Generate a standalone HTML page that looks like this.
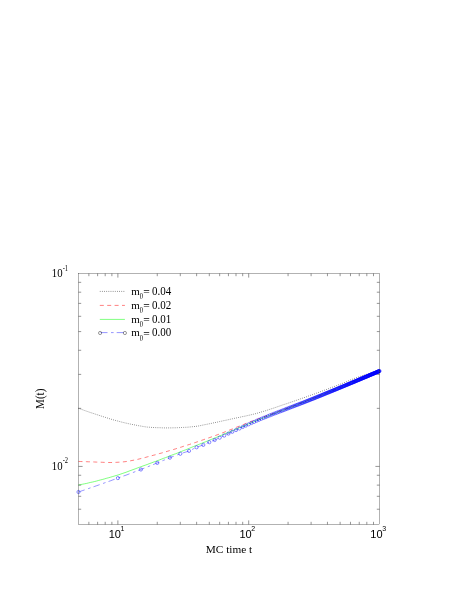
<!DOCTYPE html><html><head><meta charset="utf-8"><style>html,body{margin:0;padding:0;background:#fff}svg{display:block;will-change:transform}text{fill:#000}</style></head><body>
<svg width="458" height="592" viewBox="0 0 458 592">
<rect width="458" height="592" fill="#fff"/>
<g fill="none" stroke-linecap="butt">
<path d="M78.5,408.3 L80.5,409.0 L82.5,409.7 L84.6,410.5 L86.6,411.2 L88.6,411.9 L90.6,412.6 L92.6,413.2 L94.7,413.9 L96.7,414.6 L98.7,415.2 L100.7,415.9 L102.7,416.5 L104.8,417.2 L106.8,417.8 L108.8,418.5 L110.8,419.1 L112.8,419.7 L114.9,420.3 L116.9,420.8 L118.9,421.3 L120.9,421.9 L122.9,422.4 L125.0,422.9 L127.0,423.3 L129.0,423.8 L131.0,424.2 L133.0,424.6 L135.1,425.0 L137.1,425.4 L139.1,425.8 L141.1,426.1 L143.1,426.5 L145.2,426.8 L147.2,427.1 L149.2,427.2 L151.2,427.4 L153.2,427.5 L155.3,427.6 L157.3,427.7 L159.3,427.7 L161.3,427.8 L163.3,427.9 L165.4,427.9 L167.4,427.9 L169.4,427.9 L171.4,427.9 L173.4,427.8 L175.5,427.8 L177.5,427.7 L179.5,427.6 L181.5,427.5 L183.5,427.4 L185.6,427.3 L187.6,427.2 L189.6,427.0 L191.6,426.8 L193.6,426.6 L195.7,426.4 L197.7,426.1 L199.7,425.8 L201.7,425.3 L203.7,424.9 L205.8,424.5 L207.8,424.1 L209.8,423.7 L211.8,423.3 L213.8,422.8 L215.9,422.4 L217.9,422.0 L219.9,421.5 L221.9,421.1 L223.9,420.6 L226.0,420.2 L228.0,419.8 L230.0,419.3 L232.0,418.9 L234.1,418.4 L236.1,418.0 L238.1,417.6 L240.1,417.2 L242.1,416.7 L244.2,416.3 L246.2,415.9 L248.2,415.4 L250.2,415.0 L252.2,414.5 L254.3,414.0 L256.3,413.5 L258.3,412.9 L260.3,412.3 L262.3,411.7 L264.4,411.1 L266.4,410.5 L268.4,409.8 L270.4,409.1 L272.4,408.5 L274.5,407.8 L276.5,407.1 L278.5,406.4 L280.5,405.7 L282.5,405.0 L284.6,404.3 L286.6,403.7 L288.6,403.0 L290.6,402.3 L292.6,401.6 L294.7,400.9 L296.7,400.2 L298.7,399.5 L300.7,398.8 L302.7,398.1 L304.8,397.4 L306.8,396.7 L308.8,395.9 L310.8,395.2 L312.8,394.5 L314.9,393.8 L316.9,393.0 L318.9,392.3 L320.9,391.5 L322.9,390.8 L325.0,390.0 L327.0,389.3 L329.0,388.5 L331.0,387.7 L333.0,387.0 L335.1,386.2 L337.1,385.4 L339.1,384.6 L341.1,383.9 L343.1,383.1 L345.2,382.2 L347.2,381.4 L349.2,380.5 L351.2,379.7 L353.2,378.9 L355.3,378.1 L357.3,377.4 L359.3,376.7 L361.3,376.0 L363.3,375.3 L365.4,374.7 L367.4,374.0 L369.4,373.4 L371.4,372.8 L373.4,372.2 L375.5,371.7 L377.5,371.1 L379.5,370.6" stroke="#000" stroke-width="0.5" stroke-dasharray="0.85 1.3"/>
<path d="M78.5,461.4 L80.5,461.5 L82.5,461.6 L84.6,461.6 L86.6,461.7 L88.6,461.8 L90.6,461.8 L92.6,461.9 L94.7,462.0 L96.7,462.1 L98.7,462.1 L100.7,462.2 L102.7,462.3 L104.8,462.4 L106.8,462.5 L108.8,462.5 L110.8,462.5 L112.8,462.5 L114.9,462.4 L116.9,462.3 L118.9,462.2 L120.9,462.1 L122.9,461.9 L125.0,461.7 L127.0,461.4 L129.0,461.1 L131.0,460.7 L133.0,460.3 L135.1,459.9 L137.1,459.5 L139.1,459.0 L141.1,458.5 L143.1,458.0 L145.2,457.5 L147.2,456.9 L149.2,456.4 L151.2,455.9 L153.2,455.3 L155.3,454.8 L157.3,454.2 L159.3,453.6 L161.3,453.1 L163.3,452.5 L165.4,451.9 L167.4,451.3 L169.4,450.7 L171.4,450.1 L173.4,449.5 L175.5,448.9 L177.5,448.2 L179.5,447.6 L181.5,447.0 L183.5,446.3 L185.6,445.7 L187.6,445.0 L189.6,444.4 L191.6,443.7 L193.6,443.1 L195.7,442.4 L197.7,441.7 L199.7,441.0 L201.7,440.3 L203.7,439.6 L205.8,438.9 L207.8,438.2 L209.8,437.5 L211.8,436.8 L213.8,436.1 L215.9,435.3 L217.9,434.6 L219.9,433.8 L221.9,433.1 L223.9,432.3 L226.0,431.5 L228.0,430.7 L230.0,429.9 L232.0,429.1 L234.1,428.2 L236.1,427.4 L238.1,426.6 L240.1,425.8 L242.1,425.0 L244.2,424.2 L246.2,423.4 L248.2,422.6 L250.2,421.8 L252.2,421.1 L254.3,420.3 L256.3,419.6 L258.3,418.8 L260.3,418.1 L262.3,417.4 L264.4,416.6 L266.4,415.9 L268.4,415.2 L270.4,414.4 L272.4,413.7 L274.5,413.0 L276.5,412.2 L278.5,411.5 L280.5,410.7 L282.5,410.0 L284.6,409.2 L286.6,408.4 L288.6,407.7 L290.6,406.9 L292.6,406.2 L294.7,405.4 L296.7,404.6 L298.7,403.9 L300.7,403.1 L302.7,402.3 L304.8,401.6 L306.8,400.8 L308.8,400.0 L310.8,399.2 L312.8,398.4 L314.9,397.7 L316.9,396.9 L318.9,396.1 L320.9,395.3 L322.9,394.5 L325.0,393.7 L327.0,392.8 L329.0,392.0 L331.0,391.2 L333.0,390.4 L335.1,389.6 L337.1,388.8 L339.1,388.0 L341.1,387.1 L343.1,386.3 L345.2,385.5 L347.2,384.6 L349.2,383.8 L351.2,383.0 L353.2,382.1 L355.3,381.3 L357.3,380.5 L359.3,379.6 L361.3,378.8 L363.3,377.9 L365.4,377.1 L367.4,376.2 L369.4,375.3 L371.4,374.5 L373.4,373.6 L375.5,372.7 L377.5,371.9 L379.5,371.0" stroke="#ff0000" stroke-width="0.5" stroke-dasharray="4 3.4"/>
<path d="M78.5,485.0 L80.5,484.6 L82.5,484.2 L84.6,483.8 L86.6,483.4 L88.6,482.9 L90.6,482.4 L92.6,482.0 L94.7,481.5 L96.7,481.0 L98.7,480.4 L100.7,479.9 L102.7,479.4 L104.8,478.8 L106.8,478.2 L108.8,477.7 L110.8,477.1 L112.8,476.5 L114.9,475.9 L116.9,475.3 L118.9,474.7 L120.9,474.0 L122.9,473.3 L125.0,472.6 L127.0,471.9 L129.0,471.1 L131.0,470.4 L133.0,469.6 L135.1,468.9 L137.1,468.1 L139.1,467.4 L141.1,466.7 L143.1,465.9 L145.2,465.2 L147.2,464.5 L149.2,463.7 L151.2,463.0 L153.2,462.2 L155.3,461.5 L157.3,460.7 L159.3,460.0 L161.3,459.2 L163.3,458.4 L165.4,457.7 L167.4,456.9 L169.4,456.1 L171.4,455.3 L173.4,454.5 L175.5,453.8 L177.5,453.0 L179.5,452.2 L181.5,451.4 L183.5,450.6 L185.6,449.8 L187.6,449.0 L189.6,448.2 L191.6,447.3 L193.6,446.5 L195.7,445.7 L197.7,444.9 L199.7,444.1 L201.7,443.3 L203.7,442.5 L205.8,441.7 L207.8,440.8 L209.8,440.0 L211.8,439.2 L213.8,438.4 L215.9,437.6 L217.9,436.7 L219.9,435.9 L221.9,435.1 L223.9,434.2 L226.0,433.4 L228.0,432.6 L230.0,431.7 L232.0,430.9 L234.1,430.0 L236.1,429.1 L238.1,428.3 L240.1,427.4 L242.1,426.6 L244.2,425.7 L246.2,424.9 L248.2,424.0 L250.2,423.2 L252.2,422.3 L254.3,421.5 L256.3,420.7 L258.3,419.9 L260.3,419.1 L262.3,418.3 L264.4,417.5 L266.4,416.7 L268.4,415.9 L270.4,415.1 L272.4,414.3 L274.5,413.5 L276.5,412.7 L278.5,412.0 L280.5,411.2 L282.5,410.4 L284.6,409.6 L286.6,408.9 L288.6,408.1 L290.6,407.3 L292.6,406.5 L294.7,405.8 L296.7,405.0 L298.7,404.2 L300.7,403.4 L302.7,402.6 L304.8,401.9 L306.8,401.1 L308.8,400.3 L310.8,399.5 L312.8,398.7 L314.9,397.9 L316.9,397.0 L318.9,396.2 L320.9,395.4 L322.9,394.6 L325.0,393.8 L327.0,393.0 L329.0,392.1 L331.0,391.3 L333.0,390.5 L335.1,389.6 L337.1,388.8 L339.1,388.0 L341.1,387.2 L343.1,386.3 L345.2,385.5 L347.2,384.6 L349.2,383.8 L351.2,383.0 L353.2,382.1 L355.3,381.3 L357.3,380.4 L359.3,379.6 L361.3,378.7 L363.3,377.9 L365.4,377.0 L367.4,376.2 L369.4,375.3 L371.4,374.5 L373.4,373.6 L375.5,372.7 L377.5,371.9 L379.5,371.0" stroke="#00ff00" stroke-width="0.5"/>
<path d="M78.5,492.0 L80.5,491.3 L82.5,490.6 L84.6,489.9 L86.6,489.2 L88.6,488.5 L90.6,487.8 L92.6,487.1 L94.7,486.4 L96.7,485.7 L98.7,485.0 L100.7,484.3 L102.7,483.6 L104.8,482.8 L106.8,482.1 L108.8,481.4 L110.8,480.7 L112.8,479.9 L114.9,479.2 L116.9,478.5 L118.9,477.7 L120.9,477.0 L122.9,476.2 L125.0,475.5 L127.0,474.8 L129.0,474.0 L131.0,473.3 L133.0,472.5 L135.1,471.7 L137.1,471.0 L139.1,470.2 L141.1,469.4 L143.1,468.6 L145.2,467.8 L147.2,467.0 L149.2,466.2 L151.2,465.4 L153.2,464.6 L155.3,463.7 L157.3,462.9 L159.3,462.1 L161.3,461.2 L163.3,460.4 L165.4,459.6 L167.4,458.7 L169.4,457.9 L171.4,457.1 L173.4,456.3 L175.5,455.5 L177.5,454.8 L179.5,454.0 L181.5,453.4 L183.5,452.7 L185.6,452.1 L187.6,451.5 L189.6,450.7 L191.6,449.8 L193.6,448.7 L195.7,447.8 L197.7,446.9 L199.7,446.2 L201.7,445.5 L203.7,444.7 L205.8,443.8 L207.8,442.8 L209.8,441.9 L211.8,441.1 L213.8,440.4 L215.9,439.5 L217.9,438.5 L219.9,437.6 L221.9,436.7 L223.9,435.7 L226.0,434.8 L228.0,433.8 L230.0,432.9 L232.0,431.9 L234.1,431.0 L236.1,430.0 L238.1,429.1 L240.1,428.2 L242.1,427.2 L244.2,426.3 L246.2,425.4 L248.2,424.5 L250.2,423.6 L252.2,422.7 L254.3,421.8 L256.3,421.0 L258.3,420.1 L260.3,419.3 L262.3,418.4 L264.4,417.6 L266.4,416.8 L268.4,416.0 L270.4,415.2 L272.4,414.4 L274.5,413.6 L276.5,412.8 L278.5,412.0 L280.5,411.3 L282.5,410.5 L284.6,409.7 L286.6,408.9 L288.6,408.2 L290.6,407.4 L292.6,406.6 L294.7,405.9 L296.7,405.1 L298.7,404.3 L300.7,403.5 L302.7,402.7 L304.8,402.0 L306.8,401.2 L308.8,400.4 L310.8,399.6 L312.8,398.8 L314.9,398.0 L316.9,397.1 L318.9,396.3 L320.9,395.5 L322.9,394.7 L325.0,393.9 L327.0,393.0 L329.0,392.2 L331.0,391.4 L333.0,390.5 L335.1,389.7 L337.1,388.9 L339.1,388.0 L341.1,387.2 L343.1,386.4 L345.2,385.5 L347.2,384.7 L349.2,383.8 L351.2,383.0 L353.2,382.1 L355.3,381.3 L357.3,380.4 L359.3,379.6 L361.3,378.7 L363.3,377.9 L365.4,377.0 L367.4,376.2 L369.4,375.3 L371.4,374.5 L373.4,373.6 L375.5,372.7 L377.5,371.9 L379.5,371.0" stroke="#0000ff" stroke-width="0.42" stroke-dasharray="6.5 3.6 2.6 3.2"/>
<g stroke="#0000ff" stroke-width="0.45"><circle cx="78.5" cy="492.0" r="1.6"/><circle cx="117.9" cy="478.1" r="1.6"/><circle cx="140.9" cy="469.5" r="1.6"/><circle cx="157.3" cy="462.9" r="1.6"/><circle cx="169.9" cy="457.7" r="1.6"/><circle cx="180.3" cy="453.8" r="1.6"/><circle cx="189.0" cy="450.9" r="1.6"/><circle cx="196.6" cy="447.3" r="1.6"/><circle cx="203.3" cy="444.9" r="1.6"/><circle cx="209.3" cy="442.2" r="1.6"/><circle cx="214.7" cy="440.0" r="1.6"/><circle cx="219.7" cy="437.7" r="1.6"/><circle cx="224.2" cy="435.6" r="1.6"/><circle cx="228.4" cy="433.6" r="1.6"/><circle cx="232.3" cy="431.8" r="1.6"/><circle cx="236.0" cy="430.1" r="1.6"/><circle cx="239.5" cy="428.5" r="1.6"/><circle cx="242.7" cy="427.0" r="1.6"/><circle cx="245.8" cy="425.6" r="1.6"/><circle cx="248.7" cy="424.3" r="1.6"/><circle cx="251.5" cy="423.0" r="1.6"/><circle cx="254.1" cy="421.9" r="1.6"/><circle cx="256.6" cy="420.8" r="1.6"/><circle cx="259.0" cy="419.8" r="1.6"/><circle cx="261.4" cy="418.8" r="1.6"/><circle cx="263.6" cy="417.9" r="1.6"/><circle cx="265.7" cy="417.1" r="1.6"/><circle cx="267.8" cy="416.2" r="1.6"/><circle cx="269.8" cy="415.4" r="1.6"/><circle cx="271.7" cy="414.7" r="1.6"/><circle cx="273.6" cy="413.9" r="1.6"/><circle cx="275.4" cy="413.2" r="1.6"/><circle cx="277.1" cy="412.6" r="1.6"/><circle cx="278.8" cy="411.9" r="1.6"/><circle cx="280.5" cy="411.3" r="1.6"/><circle cx="282.1" cy="410.7" r="1.6"/><circle cx="283.6" cy="410.1" r="1.6"/><circle cx="285.2" cy="409.5" r="1.6"/><circle cx="286.6" cy="408.9" r="1.6"/><circle cx="288.1" cy="408.4" r="1.6"/><circle cx="289.5" cy="407.8" r="1.6"/><circle cx="290.8" cy="407.3" r="1.6"/><circle cx="292.2" cy="406.8" r="1.6"/><circle cx="293.5" cy="406.3" r="1.6"/><circle cx="294.8" cy="405.8" r="1.6"/><circle cx="296.0" cy="405.3" r="1.6"/><circle cx="297.2" cy="404.9" r="1.6"/><circle cx="298.4" cy="404.4" r="1.6"/><circle cx="299.6" cy="404.0" r="1.6"/><circle cx="300.7" cy="403.5" r="1.6"/><circle cx="301.9" cy="403.1" r="1.6"/><circle cx="303.0" cy="402.7" r="1.6"/><circle cx="304.1" cy="402.2" r="1.6"/><circle cx="305.1" cy="401.8" r="1.6"/><circle cx="306.2" cy="401.4" r="1.6"/><circle cx="307.2" cy="401.0" r="1.6"/><circle cx="308.2" cy="400.6" r="1.6"/><circle cx="309.2" cy="400.2" r="1.6"/><circle cx="310.1" cy="399.8" r="1.6"/><circle cx="311.1" cy="399.5" r="1.6"/><circle cx="312.0" cy="399.1" r="1.6"/><circle cx="313.0" cy="398.7" r="1.6"/><circle cx="313.9" cy="398.4" r="1.6"/><circle cx="314.8" cy="398.0" r="1.6"/><circle cx="315.6" cy="397.6" r="1.6"/><circle cx="316.5" cy="397.3" r="1.6"/><circle cx="317.4" cy="396.9" r="1.6"/><circle cx="318.2" cy="396.6" r="1.6"/><circle cx="319.0" cy="396.3" r="1.6"/><circle cx="319.9" cy="395.9" r="1.6"/><circle cx="320.7" cy="395.6" r="1.6"/><circle cx="321.5" cy="395.3" r="1.6"/><circle cx="322.2" cy="395.0" r="1.6"/><circle cx="323.0" cy="394.6" r="1.6"/><circle cx="323.8" cy="394.3" r="1.6"/><circle cx="324.5" cy="394.0" r="1.6"/><circle cx="325.3" cy="393.7" r="1.6"/><circle cx="326.0" cy="393.4" r="1.6"/><circle cx="326.7" cy="393.1" r="1.6"/><circle cx="327.4" cy="392.8" r="1.6"/><circle cx="328.2" cy="392.5" r="1.6"/><circle cx="328.8" cy="392.3" r="1.6"/><circle cx="329.5" cy="392.0" r="1.6"/><circle cx="330.2" cy="391.7" r="1.6"/><circle cx="330.9" cy="391.4" r="1.6"/><circle cx="331.6" cy="391.1" r="1.6"/><circle cx="332.2" cy="390.9" r="1.6"/><circle cx="332.9" cy="390.6" r="1.6"/><circle cx="333.5" cy="390.3" r="1.6"/><circle cx="334.1" cy="390.1" r="1.6"/><circle cx="334.8" cy="389.8" r="1.6"/><circle cx="335.4" cy="389.6" r="1.6"/><circle cx="336.0" cy="389.3" r="1.6"/><circle cx="336.6" cy="389.1" r="1.6"/><circle cx="337.2" cy="388.8" r="1.6"/><circle cx="337.8" cy="388.6" r="1.6"/><circle cx="338.4" cy="388.3" r="1.6"/><circle cx="339.0" cy="388.1" r="1.6"/><circle cx="339.6" cy="387.8" r="1.6"/><circle cx="340.1" cy="387.6" r="1.6"/><circle cx="340.7" cy="387.4" r="1.6"/><circle cx="341.2" cy="387.1" r="1.6"/><circle cx="341.8" cy="386.9" r="1.6"/><circle cx="342.4" cy="386.7" r="1.6"/><circle cx="342.9" cy="386.5" r="1.6"/><circle cx="343.4" cy="386.2" r="1.6"/><circle cx="344.0" cy="386.0" r="1.6"/><circle cx="344.5" cy="385.8" r="1.6"/><circle cx="345.0" cy="385.6" r="1.6"/><circle cx="345.5" cy="385.4" r="1.6"/><circle cx="346.1" cy="385.1" r="1.6"/><circle cx="346.6" cy="384.9" r="1.6"/><circle cx="347.1" cy="384.7" r="1.6"/><circle cx="347.6" cy="384.5" r="1.6"/><circle cx="348.1" cy="384.3" r="1.6"/><circle cx="348.6" cy="384.1" r="1.6"/><circle cx="349.0" cy="383.9" r="1.6"/><circle cx="349.5" cy="383.7" r="1.6"/><circle cx="350.0" cy="383.5" r="1.6"/><circle cx="350.5" cy="383.3" r="1.6"/><circle cx="351.0" cy="383.1" r="1.6"/><circle cx="351.4" cy="382.9" r="1.6"/><circle cx="351.9" cy="382.7" r="1.6"/><circle cx="352.3" cy="382.5" r="1.6"/><circle cx="352.8" cy="382.3" r="1.6"/><circle cx="353.3" cy="382.1" r="1.6"/><circle cx="353.7" cy="382.0" r="1.6"/><circle cx="354.1" cy="381.8" r="1.6"/><circle cx="354.6" cy="381.6" r="1.6"/><circle cx="355.0" cy="381.4" r="1.6"/><circle cx="355.5" cy="381.2" r="1.6"/><circle cx="355.9" cy="381.0" r="1.6"/><circle cx="356.3" cy="380.8" r="1.6"/><circle cx="356.7" cy="380.7" r="1.6"/><circle cx="357.2" cy="380.5" r="1.6"/><circle cx="357.6" cy="380.3" r="1.6"/><circle cx="358.0" cy="380.1" r="1.6"/><circle cx="358.4" cy="380.0" r="1.6"/><circle cx="358.8" cy="379.8" r="1.6"/><circle cx="359.2" cy="379.6" r="1.6"/><circle cx="359.6" cy="379.5" r="1.6"/><circle cx="360.0" cy="379.3" r="1.6"/><circle cx="360.4" cy="379.1" r="1.6"/><circle cx="360.8" cy="378.9" r="1.6"/><circle cx="361.2" cy="378.8" r="1.6"/><circle cx="361.6" cy="378.6" r="1.6"/><circle cx="362.0" cy="378.5" r="1.6"/><circle cx="362.4" cy="378.3" r="1.6"/><circle cx="362.8" cy="378.1" r="1.6"/><circle cx="363.2" cy="378.0" r="1.6"/><circle cx="363.5" cy="377.8" r="1.6"/><circle cx="363.9" cy="377.6" r="1.6"/><circle cx="364.3" cy="377.5" r="1.6"/><circle cx="364.7" cy="377.3" r="1.6"/><circle cx="365.0" cy="377.2" r="1.6"/><circle cx="365.4" cy="377.0" r="1.6"/><circle cx="365.7" cy="376.9" r="1.6"/><circle cx="366.1" cy="376.7" r="1.6"/><circle cx="366.5" cy="376.6" r="1.6"/><circle cx="366.8" cy="376.4" r="1.6"/><circle cx="367.2" cy="376.3" r="1.6"/><circle cx="367.5" cy="376.1" r="1.6"/><circle cx="367.9" cy="376.0" r="1.6"/><circle cx="368.2" cy="375.8" r="1.6"/><circle cx="368.6" cy="375.7" r="1.6"/><circle cx="368.9" cy="375.5" r="1.6"/><circle cx="369.3" cy="375.4" r="1.6"/><circle cx="369.6" cy="375.2" r="1.6"/><circle cx="369.9" cy="375.1" r="1.6"/><circle cx="370.3" cy="374.9" r="1.6"/><circle cx="370.6" cy="374.8" r="1.6"/><circle cx="370.9" cy="374.7" r="1.6"/><circle cx="371.3" cy="374.5" r="1.6"/><circle cx="371.6" cy="374.4" r="1.6"/><circle cx="371.9" cy="374.2" r="1.6"/><circle cx="372.2" cy="374.1" r="1.6"/><circle cx="372.6" cy="374.0" r="1.6"/><circle cx="372.9" cy="373.8" r="1.6"/><circle cx="373.2" cy="373.7" r="1.6"/><circle cx="373.5" cy="373.6" r="1.6"/><circle cx="373.8" cy="373.4" r="1.6"/><circle cx="374.1" cy="373.3" r="1.6"/><circle cx="374.5" cy="373.2" r="1.6"/><circle cx="374.8" cy="373.0" r="1.6"/><circle cx="375.1" cy="372.9" r="1.6"/><circle cx="375.4" cy="372.8" r="1.6"/><circle cx="375.7" cy="372.6" r="1.6"/><circle cx="376.0" cy="372.5" r="1.6"/><circle cx="376.3" cy="372.4" r="1.6"/><circle cx="376.6" cy="372.2" r="1.6"/><circle cx="376.9" cy="372.1" r="1.6"/><circle cx="377.2" cy="372.0" r="1.6"/><circle cx="377.5" cy="371.9" r="1.6"/><circle cx="377.8" cy="371.7" r="1.6"/><circle cx="378.1" cy="371.6" r="1.6"/><circle cx="378.4" cy="371.5" r="1.6"/><circle cx="378.6" cy="371.4" r="1.6"/><circle cx="378.9" cy="371.2" r="1.6"/><circle cx="379.2" cy="371.1" r="1.6"/><circle cx="379.5" cy="371.0" r="1.6"/></g>
</g>
<path d="M88.86,524.5 v-2.7 M88.86,273.5 v2.7 M97.62,524.5 v-2.7 M97.62,273.5 v2.7 M105.20,524.5 v-2.7 M105.20,273.5 v2.7 M111.89,524.5 v-2.7 M111.89,273.5 v2.7 M117.88,524.5 v-4.1 M117.88,273.5 v4.1 M157.26,524.5 v-2.7 M157.26,273.5 v2.7 M180.29,524.5 v-2.7 M180.29,273.5 v2.7 M196.63,524.5 v-2.7 M196.63,273.5 v2.7 M209.31,524.5 v-2.7 M209.31,273.5 v2.7 M219.67,524.5 v-2.7 M219.67,273.5 v2.7 M228.43,524.5 v-2.7 M228.43,273.5 v2.7 M236.01,524.5 v-2.7 M236.01,273.5 v2.7 M242.70,524.5 v-2.7 M242.70,273.5 v2.7 M248.69,524.5 v-4.1 M248.69,273.5 v4.1 M288.07,524.5 v-2.7 M288.07,273.5 v2.7 M311.10,524.5 v-2.7 M311.10,273.5 v2.7 M327.45,524.5 v-2.7 M327.45,273.5 v2.7 M340.12,524.5 v-2.7 M340.12,273.5 v2.7 M350.48,524.5 v-2.7 M350.48,273.5 v2.7 M359.24,524.5 v-2.7 M359.24,273.5 v2.7 M366.82,524.5 v-2.7 M366.82,273.5 v2.7 M373.51,524.5 v-2.7 M373.51,273.5 v2.7 M78.5,509.22 h2.7 M379.5,509.22 h-2.7 M78.5,496.31 h2.7 M379.5,496.31 h-2.7 M78.5,485.12 h2.7 M379.5,485.12 h-2.7 M78.5,475.25 h2.7 M379.5,475.25 h-2.7 M78.5,466.42 h4.1 M379.5,466.42 h-4.1 M78.5,408.35 h2.7 M379.5,408.35 h-2.7 M78.5,374.38 h2.7 M379.5,374.38 h-2.7 M78.5,350.27 h2.7 M379.5,350.27 h-2.7 M78.5,331.58 h2.7 M379.5,331.58 h-2.7 M78.5,316.30 h2.7 M379.5,316.30 h-2.7 M78.5,303.38 h2.7 M379.5,303.38 h-2.7 M78.5,292.20 h2.7 M379.5,292.20 h-2.7 M78.5,282.33 h2.7 M379.5,282.33 h-2.7" stroke="#000" stroke-width="0.42" fill="none"/>
<rect x="78.5" y="273.5" width="301.0" height="251.0" fill="none" stroke="#000" stroke-width="0.3"/>
<g fill="none">
<path d="M99.8,291.4 H124.9" stroke="#000" stroke-width="0.5" stroke-dasharray="0.85 1.3"/>
<path d="M99.8,305.4 H124.9" stroke="#ff0000" stroke-width="0.5" stroke-dasharray="4 3.4"/>
<path d="M99.8,319.4 H124.9" stroke="#00ff00" stroke-width="0.5"/>
<path d="M100.5,332.6 H124.9" stroke="#0000ff" stroke-width="0.42" stroke-dasharray="7 3.5 2.6 3.1"/>
<circle cx="100.1" cy="333" r="1.6" stroke="#000" stroke-width="0.4"/><circle cx="124.9" cy="333" r="1.6" stroke="#000" stroke-width="0.4"/>
</g>
<g font-family="'Liberation Serif', serif" font-size="11">
<text transform="translate(131.2,294.7) scale(1,1)" font-size="11">m</text>
<text transform="translate(139.7,298.9) scale(0.85,1)" font-size="7.6">0</text>
<text transform="translate(143.2,296.2) scale(1.05,1.2)" font-size="11">=</text>
<text transform="translate(151.9,294.7) scale(1.0,1.14)" font-size="11">0.04</text>
<text transform="translate(131.2,308.9) scale(1,1)" font-size="11">m</text>
<text transform="translate(139.7,313.09999999999997) scale(0.85,1)" font-size="7.6">0</text>
<text transform="translate(143.2,310.4) scale(1.05,1.2)" font-size="11">=</text>
<text transform="translate(151.9,308.9) scale(1.0,1.14)" font-size="11">0.02</text>
<text transform="translate(131.2,322.9) scale(1,1)" font-size="11">m</text>
<text transform="translate(139.7,327.09999999999997) scale(0.85,1)" font-size="7.6">0</text>
<text transform="translate(143.2,324.4) scale(1.05,1.2)" font-size="11">=</text>
<text transform="translate(151.9,322.9) scale(1.0,1.14)" font-size="11">0.01</text>
<text transform="translate(131.2,336.4) scale(1,1)" font-size="11">m</text>
<text transform="translate(139.7,340.59999999999997) scale(0.85,1)" font-size="7.6">0</text>
<text transform="translate(143.2,337.9) scale(1.05,1.2)" font-size="11">=</text>
<text transform="translate(151.9,336.4) scale(1.0,1.14)" font-size="11">0.00</text>
<text transform="translate(51.8,277.1) scale(0.98,1.13)" font-size="11">10</text>
<text transform="translate(62.7,270.5) scale(1,1.15)" font-size="6.5">-1</text>
<text transform="translate(51.8,470.0) scale(0.98,1.13)" font-size="11">10</text>
<text transform="translate(62.7,463.4) scale(1,1.15)" font-size="6.5">-2</text>
<text transform="translate(205.8,552.6) scale(1,1)" font-size="11.3">MC time t</text>
<text transform="translate(44,408.9) rotate(-90) scale(0.98,1.06)" font-size="11.3">M(t)</text>
</g>
<g font-family="'Liberation Sans', sans-serif" font-size="11">
<text x="108.7" y="537.7">10<tspan font-size="7" dx="-0.4" dy="-6.5">1</tspan></text>
<text x="239.5" y="537.7">10<tspan font-size="7" dx="-0.4" dy="-6.5">2</tspan></text>
<text x="370.3" y="537.7">10<tspan font-size="7" dx="-0.4" dy="-6.5">3</tspan></text>
</g>
</svg></body></html>
